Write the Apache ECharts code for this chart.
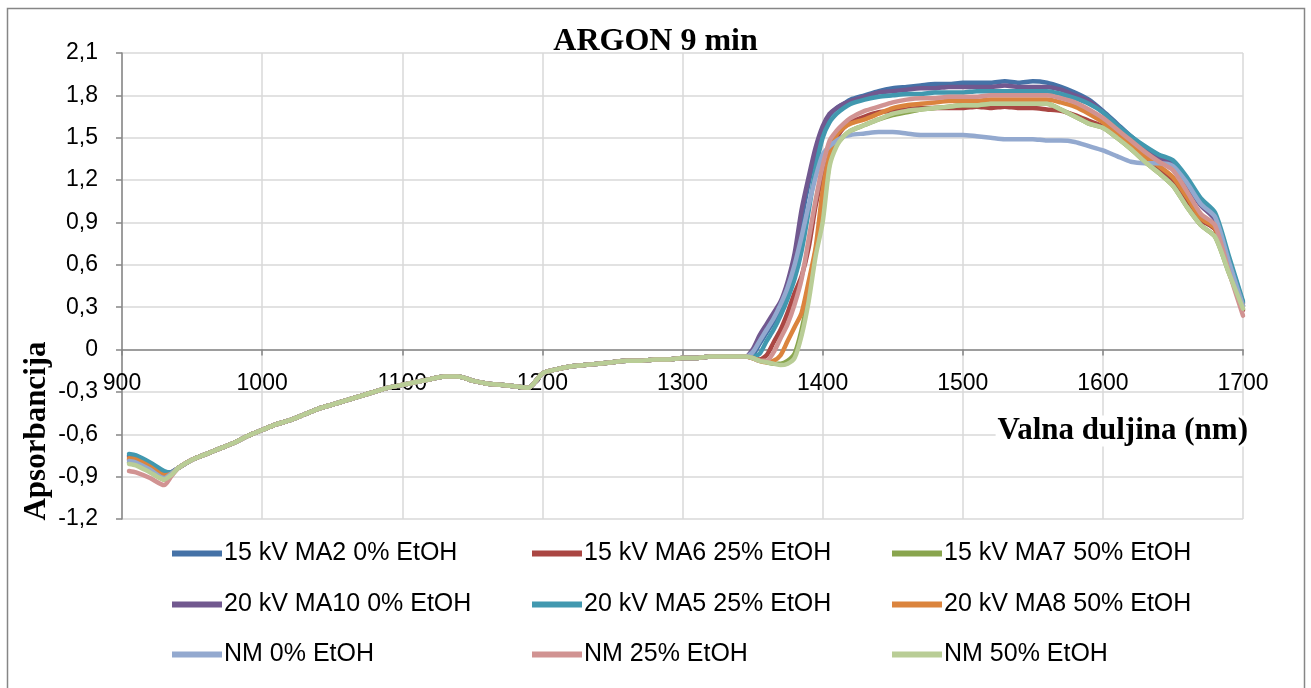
<!DOCTYPE html>
<html>
<head>
<meta charset="utf-8">
<script src="https://cdn.jsdelivr.net/npm/echarts@6/dist/echarts.min.js"></script>
<style>
html,body{margin:0;padding:0;background:#fff;}
#chart{width:1311px;height:688px;}
</style>
</head>
<body>
<div id="chart"></div>
<script>
// ---------- DATA ----------
const wavelength = [905,910,920,930,935,
  940,950,960,970,980,990,1000,1010,1020,1030,1040,1050,1060,1070,1080,1090,1100,1110,1120,1130,1140,1150,1160,1170,1180,1190,1200,1210,1220,1230,1240,1250,1260,1270,1280,1290,1300,1310,1320,1330,1340,
  1345,1350,1355,1360,1365,1370,1375,1380,1385,1390,1395,1400,1405,1410,1415,1420,
  1430,1440,1450,1460,1470,1480,1490,1500,1510,1520,1530,1540,1550,1560,1570,1580,1590,1600,1610,1620,1630,1640,1650,1660,1670,1680,1690,1700];

// shared part of all curves, 940..1340 nm
const baseline = [-0.84,-0.78,-0.74,-0.70,-0.66,-0.61,-0.57,-0.53,-0.50,-0.46,-0.42,-0.39,-0.36,-0.33,-0.30,-0.27,-0.25,-0.23,-0.21,-0.19,-0.19,-0.22,-0.24,-0.25,-0.26,-0.27,-0.17,-0.14,-0.12,-0.11,-0.10,-0.09,-0.08,-0.08,-0.07,-0.07,-0.06,-0.06,-0.05,-0.05,-0.05];

const seriesNames = ['15 kV MA2 0% EtOH','15 kV MA6 25% EtOH','15 kV MA7 50% EtOH','20 kV MA10 0% EtOH','20 kV MA5 25% EtOH','20 kV MA8 50% EtOH','NM 0% EtOH','NM 25% EtOH','NM 50% EtOH'];

// 905..935 nm
const ma2Start  = [-0.75,-0.76,-0.81,-0.87,-0.87];
const ma6Start  = [-0.78,-0.79,-0.84,-0.90,-0.88];
const ma7Start  = [-0.80,-0.81,-0.86,-0.92,-0.89];
const ma10Start = [-0.76,-0.77,-0.82,-0.88,-0.87];
const ma5Start  = [-0.74,-0.75,-0.80,-0.86,-0.87];
const ma8Start  = [-0.77,-0.78,-0.83,-0.89,-0.88];
const nm0Start  = [-0.79,-0.80,-0.85,-0.91,-0.88];
const nm25Start = [-0.86,-0.87,-0.91,-0.96,-0.90];
const nm50Start = [-0.81,-0.82,-0.87,-0.92,-0.89];

// 1345..1700 nm
const ma2End  = [-0.05,-0.04,0.04,0.12,0.20,0.30,0.44,0.62,0.92,1.18,1.40,1.56,1.66,1.71,1.74,1.77,
  1.80,1.83,1.85,1.86,1.87,1.88,1.88,1.89,1.89,1.89,1.90,1.89,1.90,1.89,1.86,1.82,1.77,1.69,1.60,1.51,1.43,1.37,1.31,1.18,1.03,0.94,0.64,0.33];
const ma6End  = [-0.05,-0.06,-0.07,-0.04,0.05,0.14,0.26,0.40,0.52,0.72,1.02,1.24,1.40,1.50,1.57,1.61,
  1.65,1.68,1.69,1.70,1.71,1.71,1.71,1.71,1.72,1.71,1.72,1.71,1.71,1.70,1.69,1.66,1.62,1.58,1.51,1.43,1.36,1.28,1.20,1.06,0.92,0.85,0.57,0.28];
const ma7End  = [-0.05,-0.06,-0.08,-0.09,-0.10,-0.10,-0.08,-0.03,0.14,0.38,0.70,0.96,1.32,1.45,1.51,1.55,
  1.59,1.63,1.66,1.68,1.70,1.71,1.72,1.73,1.73,1.74,1.74,1.74,1.74,1.74,1.70,1.65,1.60,1.57,1.50,1.42,1.33,1.25,1.16,1.01,0.88,0.80,0.54,0.29];
const ma10End = [-0.05,0.00,0.10,0.18,0.26,0.34,0.48,0.68,0.99,1.22,1.43,1.58,1.67,1.71,1.74,1.76,
  1.79,1.82,1.83,1.84,1.85,1.85,1.86,1.86,1.86,1.86,1.87,1.86,1.86,1.86,1.84,1.80,1.76,1.68,1.59,1.50,1.42,1.36,1.30,1.16,1.02,0.92,0.62,0.31];
const ma5End  = [-0.05,-0.05,-0.03,0.06,0.14,0.24,0.36,0.50,0.70,0.98,1.28,1.50,1.61,1.67,1.71,1.74,
  1.77,1.79,1.80,1.81,1.81,1.82,1.82,1.82,1.83,1.83,1.83,1.83,1.83,1.83,1.81,1.78,1.74,1.68,1.59,1.51,1.44,1.38,1.34,1.22,1.07,0.97,0.66,0.34];
const ma8End  = [-0.05,-0.06,-0.08,-0.09,-0.08,-0.04,0.06,0.16,0.26,0.48,0.72,1.12,1.38,1.52,1.57,1.60,
  1.63,1.67,1.71,1.73,1.74,1.75,1.76,1.76,1.76,1.77,1.77,1.77,1.77,1.77,1.75,1.72,1.67,1.61,1.53,1.45,1.37,1.30,1.22,1.08,0.93,0.86,0.58,0.31];
const nm0End  = [-0.05,-0.02,0.06,0.14,0.22,0.32,0.44,0.60,0.80,1.02,1.22,1.38,1.44,1.48,1.51,1.52,
  1.53,1.54,1.54,1.53,1.52,1.52,1.52,1.52,1.51,1.50,1.49,1.49,1.49,1.48,1.48,1.47,1.44,1.41,1.37,1.33,1.32,1.32,1.30,1.18,1.03,0.94,0.62,0.31];
const nm25End = [-0.05,-0.06,-0.08,-0.08,-0.02,0.08,0.18,0.32,0.50,0.78,1.06,1.30,1.48,1.55,1.60,1.64,
  1.69,1.72,1.75,1.77,1.78,1.78,1.79,1.79,1.79,1.80,1.80,1.80,1.80,1.80,1.78,1.75,1.70,1.64,1.56,1.48,1.40,1.33,1.27,1.12,0.96,0.88,0.55,0.24];
const nm50End = [-0.05,-0.06,-0.08,-0.09,-0.10,-0.11,-0.10,-0.06,0.10,0.34,0.66,0.90,1.30,1.44,1.51,1.55,
  1.59,1.63,1.67,1.69,1.70,1.71,1.72,1.73,1.73,1.74,1.74,1.74,1.74,1.74,1.70,1.65,1.60,1.57,1.50,1.42,1.33,1.25,1.16,1.01,0.88,0.80,0.54,0.29];

const seriesParts = [
  [ma2Start, ma2End],[ma6Start, ma6End],[ma7Start, ma7End],
  [ma10Start, ma10End],[ma5Start, ma5End],[ma8Start, ma8End],
  [nm0Start, nm0End],[nm25Start, nm25End],[nm50Start, nm50End]
];

const xTicks = {min:900, max:1700, step:100};
const yTicks = {min:-1.2, max:2.1, step:0.3};

// ---------- STYLE ----------
const colors = ['#4572A7','#AA4643','#89A54E','#71588F','#4198AF','#DB843D','#93A9CF','#D19392','#B9CD96'];
const sans = 'Liberation Sans';
const serif = 'Liberation Serif';

const W = 1311, H = 688;
const gridBox = {left: 122, right: 68, top: 53, bottom: 169};
const plotH = H - gridBox.top - gridBox.bottom;
// x axis crosses the y axis at value 0
const xAxisOffset = -plotH * (0 - yTicks.min) / (yTicks.max - yTicks.min);

const series = seriesNames.map((name, i) => {
  const vals = seriesParts[i][0].concat(baseline, seriesParts[i][1]);
  return {
    name: name,
    type: 'line',
    data: wavelength.map((w, k) => [w, vals[k]]),
    showSymbol: false,
    smooth: 0.25,
    lineStyle: {width: 4.5, color: colors[i], cap: 'round', join: 'round'},
    itemStyle: {color: colors[i]},
    emphasis: {disabled: true},
    animation: false
  };
});

// legends: 3 columns x 3 rows
const legendCols = [167, 527, 887];
const legendRows = [550, 601, 651];
const legendOrder = [
  ['15 kV MA2 0% EtOH','20 kV MA10 0% EtOH','NM 0% EtOH'],
  ['15 kV MA6 25% EtOH','20 kV MA5 25% EtOH','NM 25% EtOH'],
  ['15 kV MA7 50% EtOH','20 kV MA8 50% EtOH','NM 50% EtOH']
];
const legends = [];
legendOrder.forEach((col, c) => col.forEach((nm, r) => {
  legends.push({
    data: [nm], left: legendCols[c], top: legendRows[r] - 14,
    icon: 'rect', itemWidth: 50, itemHeight: 6, selectedMode: false,
    textStyle: {fontFamily: sans, fontSize: 25, color: '#000', padding: [0,0,0,-3]}
  });
}));

const fmtY = v => Math.abs(v) < 1e-9 ? '0' : v.toFixed(1).replace('.', ',');
const fmtX = v => String(Math.round(v));

const chart = echarts.init(document.getElementById('chart'), null, {renderer: 'canvas'});
chart.setOption({
  animation: false,
  backgroundColor: '#fff',
  title: {
    text: 'ARGON 9 min', left: 'center', top: 21,
    textStyle: {fontFamily: serif, fontWeight: 'bold', fontSize: 32, color: '#000'}
  },
  legend: legends,
  grid: {left: gridBox.left, right: gridBox.right, top: gridBox.top, bottom: gridBox.bottom, containLabel: false},
  xAxis: {
    type: 'value', min: xTicks.min, max: xTicks.max, interval: xTicks.step,
    position: 'bottom', offset: xAxisOffset,
    axisLine: {onZero: false, lineStyle: {color: '#868686', width: 1.5}},
    axisTick: {show: true, inside: false, length: 6, lineStyle: {color: '#868686', width: 1.5}},
    axisLabel: {fontFamily: sans, fontSize: 23, color: '#000', margin: 23, formatter: fmtX},
    splitLine: {show: true, lineStyle: {color: '#D9D9D9', width: 1.5}}
  },
  yAxis: {
    type: 'value', min: yTicks.min, max: yTicks.max, interval: yTicks.step,
    axisLine: {show: true, onZero: false, lineStyle: {color: '#868686', width: 1.5}},
    axisTick: {show: true, inside: false, length: 6, lineStyle: {color: '#868686', width: 1.5}},
    axisLabel: {fontFamily: sans, fontSize: 23, color: '#000', margin: 24, formatter: fmtY},
    splitLine: {show: true, lineStyle: {color: '#D9D9D9', width: 1.5}}
  },
  graphic: [
    {type: 'rect', shape: {x: 7.5, y: 8.5, width: 1297, height: 700}, style: {fill: 'none', stroke: '#868686', lineWidth: 1.5}, silent: true},
    {type: 'text', x: 1250, y: 431, z: 10, style: {text: 'Valna duljina (nm)', fontFamily: serif, fontWeight: 'bold', fontSize: 31, fill: '#000', align: 'right', verticalAlign: 'middle', backgroundColor: '#fff', padding: [0, 2]}},
    {type: 'text', x: 37, y: 431, rotation: Math.PI / 2, style: {text: 'Apsorbancija', fontFamily: serif, fontWeight: 'bold', fontSize: 31, fill: '#000', align: 'center', verticalAlign: 'middle'}}
  ],
  series: series
});
</script>
</body>
</html>
